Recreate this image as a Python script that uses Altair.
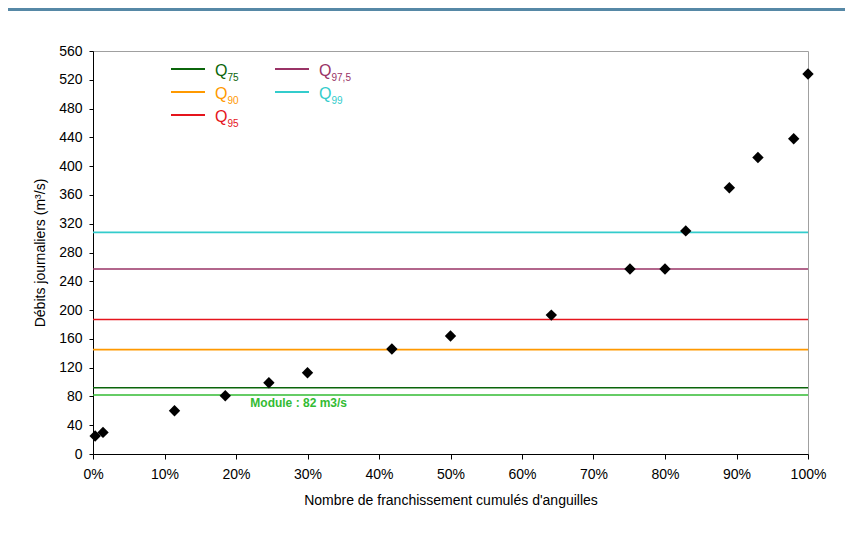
import altair as alt
import pandas as pd

# ---- data ----
share = [0.003, 0.014, 0.114, 0.185, 0.246, 0.300, 0.418, 0.500, 0.641,
         0.751, 0.800, 0.829, 0.890, 0.930, 0.980, 1.000]
flow = [25, 30, 60, 81, 99, 113, 146, 164, 193,
        257, 257, 310, 370, 412, 438, 528]

q_names = ["75", "90", "95", "97,5", "99"]
q_values = [92, 145, 187, 257, 308]
q_colors = ["#0B650B", "#FF9900", "#E5141C", "#993366", "#33CCCC"]

module_value = 82
module_color = "#33BB33"

y_ticks = list(range(0, 561, 40))
x_ticks = [i / 10 for i in range(11)]

FONT = "Liberation Sans, Arial, sans-serif"

pts = pd.DataFrame({"share": share, "flow": flow})
qdf = pd.DataFrame({"name": q_names, "flow": q_values, "color": q_colors})
mdf = pd.DataFrame({"flow": [module_value], "share": [0.22],
                    "label": [f"Module : {module_value} m3/s"]})
one = pd.DataFrame({"k": [0]})

yscale = alt.Scale(domain=[0, 560], nice=False, zero=True)
xscale = alt.Scale(domain=[0, 1], nice=False)

x_axis = alt.Axis(values=x_ticks, format=".0%",
                  title="Nombre de franchissement cumulés d'anguilles",
                  tickSize=5, labelPadding=8, titlePadding=12,
                  labelFlush=False, labelOverlap=False, grid=False)
y_axis = alt.Axis(values=y_ticks, title="Débits journaliers (m³/s)",
                  tickSize=4, labelPadding=7, titlePadding=11,
                  labelFlush=False, labelOverlap=False, grid=False)

x_enc = alt.X("share:Q", scale=xscale, axis=x_axis)
y_enc = alt.Y("flow:Q", scale=yscale, axis=y_axis)

points = alt.Chart(pts).mark_point(shape="diamond", filled=True, color="black",
                                   size=130, opacity=1).encode(x=x_enc, y=y_enc)

qlines = alt.Chart(qdf).mark_rule(strokeWidth=1.6).encode(
    y=y_enc,
    color=alt.Color("color:N", scale=None),
)

mline = alt.Chart(mdf).mark_rule(strokeWidth=1.6, color=module_color).encode(y=y_enc)
mtext = alt.Chart(mdf).mark_text(align="left", baseline="alphabetic", dy=12.5,
                                 fontSize=12, fontWeight="bold", font=FONT,
                                 color=module_color).encode(
    x=x_enc, y=y_enc, text="label:N")

# top frame band (decoration)
band = alt.Chart(one).mark_rect(color="#5688A6").encode(
    x=alt.value(-85), x2=alt.value(760), y=alt.value(-43), y2=alt.value(-40))

# manual legend
legend_layers = []
for i, (nm, col) in enumerate(zip(q_names, q_colors)):
    c = 0 if i < 3 else 1
    r = i if i < 3 else i - 3
    x0 = 78 + c * 104
    y0 = 18 + r * 23
    legend_layers.append(alt.Chart(one).mark_rule(strokeWidth=2.2, color=col).encode(
        x=alt.value(x0), x2=alt.value(x0 + 34), y=alt.value(y0)))
    legend_layers.append(alt.Chart(one).mark_text(
        align="left", baseline="alphabetic", fontSize=16, font=FONT, color=col).encode(
        x=alt.value(x0 + 44), y=alt.value(y0 + 7), text=alt.value("Q")))
    legend_layers.append(alt.Chart(one).mark_text(
        align="left", baseline="alphabetic", fontSize=10, font=FONT, color=col).encode(
        x=alt.value(x0 + 56.5), y=alt.value(y0 + 12), text=alt.value(nm)))

chart = alt.layer(qlines, band, mline, mtext, points, *legend_layers).properties(
    width=715, height=403,
    autosize=alt.AutoSizeParams(type="none"),
    padding={"left": 85, "top": 43, "right": 37, "bottom": 70},
    background="white",
).configure_view(stroke="#A0A0A0", strokeWidth=1).configure_axis(
    grid=False, domainColor="black", domainWidth=1, tickColor="black",
    labelFont=FONT, titleFont=FONT, labelFontSize=14, titleFontSize=14,
    labelColor="black", titleColor="black", titleFontWeight="normal",
)

chart.save("out.html", embed_options={"renderer": "svg", "actions": False})
